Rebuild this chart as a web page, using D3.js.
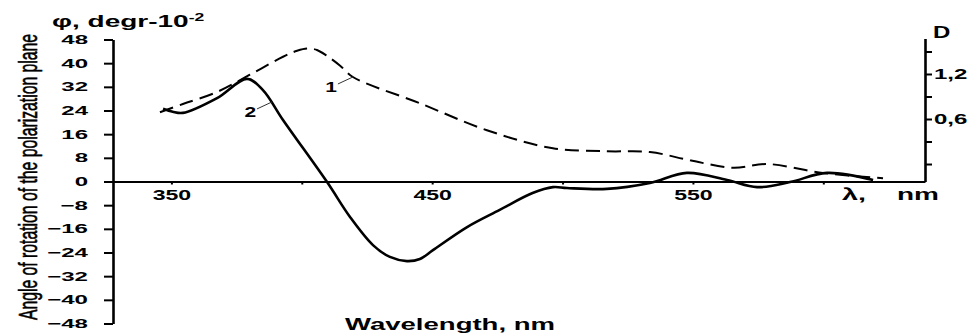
<!DOCTYPE html>
<html lang="en">
<head>
    <meta charset="UTF-8">
    <title>Optical rotatory dispersion and absorption</title>
    <style>
        body {
            margin: 0;
            background: #fff;
        }
        svg text {
            font-family: 'Liberation Sans', Arial, sans-serif;
            font-weight: bold;
            fill: #000;
        }
        .axis path,
        .axis line {
            stroke: #000;
            fill: none;
        }
        .axis text {
            font-family: 'Liberation Sans', Arial, sans-serif;
            font-weight: bold;
        }
    </style>
</head>
<body>
    <div id="chart"></div>

    <script src="https://d3js.org/d3.v7.min.js"></script>
    <script>
        // curve 2 (solid): rotation angle, degr*10^-2
        const wavelength2 = [346.8, 350.5, 354.4, 367.5, 379.0, 385.1, 392.8, 409.7, 418.5, 427.3, 433.8, 440.3,
                             445.3, 450.3, 463.4, 475.9, 488.5, 496.3, 501.7, 517.0, 533.5, 547.7, 563.1,
                             574.6, 587.2, 601.4, 619.1];
        const phi2 = [24.6, 23.6, 23.2, 28.2, 34.7, 30.9, 20.8, -0.2, -12.0, -21.5, -25.5, -26.9,
                      -26.2, -23.2, -15.4, -9.6, -3.9, -1.9, -2.2, -2.5, -0.5, 2.9, 0.5,
                      -1.9, -0.2, 2.9, 0.5];

        // curve 1 (dashed): optical density D
        const wavelength1 = [345.6, 354.4, 367.5, 380.1, 392.8, 398.2, 402.0, 405.8, 409.7, 414.7, 419.6,
                             445.3, 471.0, 496.3, 517.0, 533.5, 548.9, 565.4, 578.4, 599.9, 622.9];
        const density1 = [0.69, 0.80, 0.96, 1.19, 1.43, 1.51, 1.54, 1.52, 1.44, 1.31, 1.16,
                          0.81, 0.45, 0.21, 0.17, 0.16, 0.05, -0.05, 0.0, -0.12, -0.19];

        // ticks
        const phiTicks = [-48, -40, -32, -24, -16, -8, 0, 8, 16, 24, 32, 40, 48];
        const lambdaTicks = [350, 400, 450, 500, 550, 600];
        const lambdaLabels = [350, 450, 550];
        const dTicks = [0, 0.3, 0.6, 0.9, 1.2, 1.5];
        const dLabels = [0.6, 1.2];

        // curve number labels, anchored on their curves
        const curveNames = ['1', '2'];
        const curveAnchorLambda = [419.6, 388.6];
        const curveAnchorValue = [1.16, 26.9];

        const W = 976, H = 335;
        const svg = d3.select('#chart').append('svg')
            .attr('width', W)
            .attr('height', H);

        const x = d3.scaleLinear().domain([327.6, 639.0]).range([113, 925]);
        const yPhi = d3.scaleLinear().domain([-48, 48]).range([323.5, 39.5]);
        const yD = d3.scaleLinear().domain([-0.233, 1.673]).range([181.5, 38.5]);

        // the source picture is stretched sideways, so stretch the glyphs too
        function stretch(g, k) {
            g.selectAll('text').each(function() {
                const t = d3.select(this);
                const tx = +t.attr('x') || 0;
                t.attr('x', 0).attr('transform', `translate(${tx},0) scale(${k},1)`);
            });
        }

        // left axis
        const gLeft = svg.append('g')
            .attr('class', 'axis')
            .attr('transform', `translate(${x.range()[0]},0)`)
            .call(d3.axisLeft(yPhi)
                .tickValues(phiTicks)
                .tickSize(9)
                .tickSizeOuter(0)
                .tickPadding(16));
        gLeft.select('.domain').attr('stroke-width', 2.6);
        gLeft.selectAll('.tick line').attr('stroke-width', 2);
        gLeft.selectAll('text').style('font-size', '13px');
        stretch(gLeft, 1.85);

        // bottom axis at zero
        const gBottom = svg.append('g')
            .attr('class', 'axis')
            .attr('transform', `translate(0,${yPhi(0)})`)
            .call(d3.axisBottom(x)
                .tickValues(lambdaTicks)
                .tickSize(3)
                .tickSizeOuter(0)
                .tickPadding(6)
                .tickFormat(d => lambdaLabels.includes(d) ? d : ''));
        gBottom.select('.domain').attr('stroke-width', 2);
        gBottom.selectAll('.tick line').attr('stroke-width', 2);
        gBottom.selectAll('text').style('font-size', '14px');
        stretch(gBottom, 1.65);

        // right axis (D)
        const gRight = svg.append('g')
            .attr('class', 'axis')
            .attr('transform', `translate(${x.range()[1]},0)`)
            .call(d3.axisRight(yD)
                .tickValues(dTicks)
                .tickSize(7)
                .tickSizeOuter(0)
                .tickPadding(2)
                .tickFormat(d => dLabels.includes(d) ? d.toFixed(1).replace('.', ',') : ''));
        gRight.select('.domain').attr('stroke-width', 2.6);
        gRight.selectAll('.tick line').attr('stroke-width', 2);
        gRight.selectAll('text').style('font-size', '15px');
        stretch(gRight, 1.6);

        // curves
        const lineD = d3.line()
            .x(d => x(d[0]))
            .y(d => yD(d[1]))
            .curve(d3.curveCatmullRom.alpha(0.5));
        const linePhi = d3.line()
            .x(d => x(d[0]))
            .y(d => yPhi(d[1]))
            .curve(d3.curveCatmullRom.alpha(0.5));

        svg.append('path')
            .datum(wavelength1.map((w, i) => [w, density1[i]]))
            .attr('d', lineD)
            .attr('fill', 'none')
            .attr('stroke', '#000')
            .attr('stroke-width', 2)
            .attr('stroke-dasharray', '14,7');

        svg.append('path')
            .datum(wavelength2.map((w, i) => [w, phi2[i]]))
            .attr('d', linePhi)
            .attr('fill', 'none')
            .attr('stroke', '#000')
            .attr('stroke-width', 2.6);

        // curve number labels with leader lines
        const anchors = [
            [x(curveAnchorLambda[0]), yD(curveAnchorValue[0])],
            [x(curveAnchorLambda[1]), yPhi(curveAnchorValue[1])]
        ];
        anchors.forEach((a, i) => {
            svg.append('line')
                .attr('x1', a[0]).attr('y1', a[1])
                .attr('x2', a[0] - 15).attr('y2', a[1] + 7)
                .attr('stroke', '#333')
                .attr('stroke-width', 1);
            svg.append('g')
                .attr('transform', `translate(${a[0] - 16},${a[1] + 15}) scale(1.5,1)`)
                .append('text')
                .attr('text-anchor', 'end')
                .style('font-size', '14px')
                .text(curveNames[i]);
        });

        // titles
        const phiTitle = svg.append('g').attr('transform', 'translate(52,27) scale(1.75,1)');
        const pt = phiTitle.append('text').style('font-size', '16px');
        pt.append('tspan').text('φ, degr-10');
        pt.append('tspan').attr('dy', -6).style('font-size', '10px').text('-2');

        svg.append('g')
            .attr('transform', 'translate(37,177) scale(1.5,1) rotate(-90)')
            .append('text')
            .attr('text-anchor', 'middle')
            .attr('textLength', 286)
            .attr('lengthAdjust', 'spacingAndGlyphs')
            .style('font-family', "'Liberation Sans Narrow', 'Liberation Sans', Arial, sans-serif")
            .style('font-weight', 'normal')
            .style('stroke', '#000')
            .style('stroke-width', 0.4)
            .style('font-size', '17px')
            .text('Angle of rotation of the polarization plane');

        svg.append('g')
            .attr('transform', 'translate(933,38) scale(1.5,1)')
            .append('text')
            .style('font-size', '16px')
            .text('D');

        svg.append('g')
            .attr('transform', 'translate(842,200) scale(1.8,1)')
            .append('text')
            .style('font-size', '16px')
            .text('λ,');
        svg.append('g')
            .attr('transform', 'translate(897,200) scale(1.75,1)')
            .append('text')
            .style('font-size', '16px')
            .text('nm');

        svg.append('text')
            .attr('x', 345)
            .attr('y', 330)
            .attr('textLength', 210)
            .attr('lengthAdjust', 'spacingAndGlyphs')
            .style('font-size', '17px')
            .text('Wavelength, nm');
    </script>
</body>
</html>
